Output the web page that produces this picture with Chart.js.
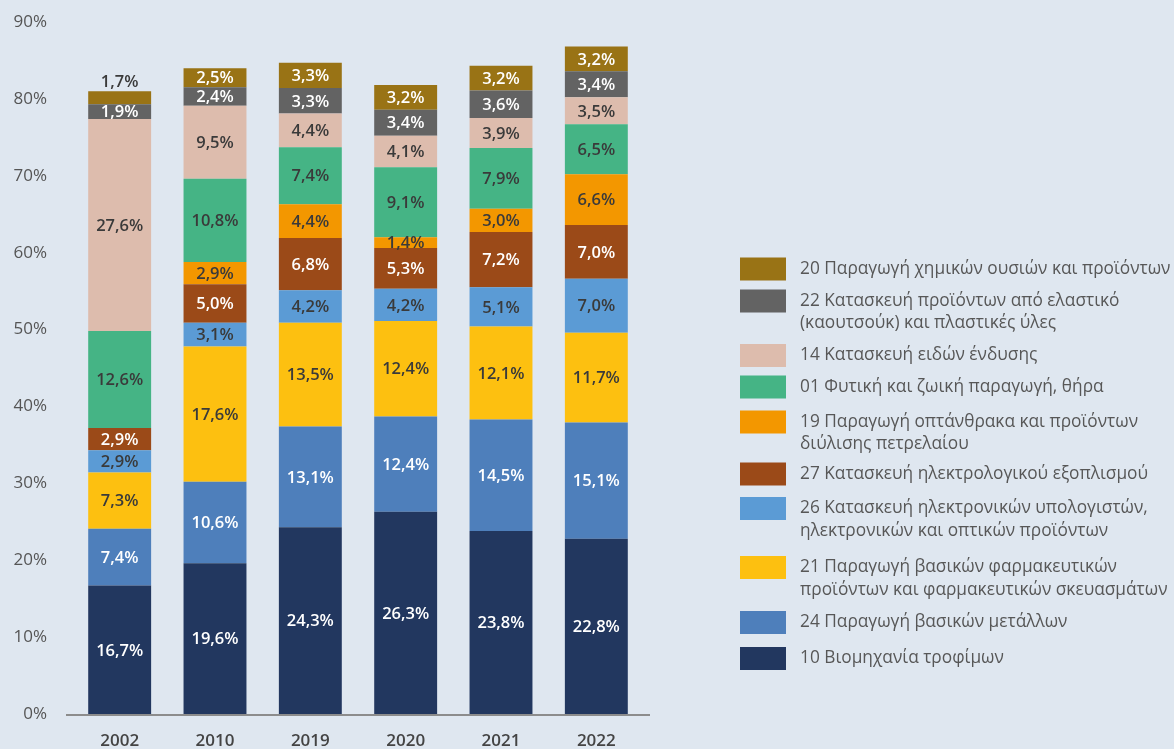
<!DOCTYPE html>
<html>
<head>
<meta charset="utf-8">
<script src="https://cdn.jsdelivr.net/npm/chart.js@4.4.1/dist/chart.umd.min.js"></script>
<style>
  html, body { margin: 0; padding: 0; background: #dfe7f0; }
  #wrap { width: 1174px; height: 749px; position: relative; }
</style>
</head>
<body>
<div id="wrap"><canvas id="chart"></canvas></div>
<script>
// --- data (bottom of stack first) ---
const years = ['2002', '2010', '2019', '2020', '2021', '2022'];
const yTicks = [0, 10, 20, 30, 40, 50, 60, 70, 80, 90];

const food       = [16.7, 19.6, 24.3, 26.3, 23.8, 22.8];
const metals     = [7.4, 10.6, 13.1, 12.4, 14.5, 15.1];
const pharma     = [7.3, 17.6, 13.5, 12.4, 12.1, 11.7];
const computers  = [2.9, 3.1, 4.2, 4.2, 5.1, 7.0];
const electrical = [2.9, 5.0, 6.8, 5.3, 7.2, 7.0];
const coke       = [null, 2.9, 4.4, 1.4, 3.0, 6.6];
const crops      = [12.6, 10.8, 7.4, 9.1, 7.9, 6.5];
const clothing   = [27.6, 9.5, 4.4, 4.1, 3.9, 3.5];
const rubber     = [1.9, 2.4, 3.3, 3.4, 3.6, 3.4];
const chemicals  = [1.7, 2.5, 3.3, 3.2, 3.2, 3.2];

const seriesNames = [
  ['10 Βιομηχανία τροφίμων'],
  ['24 Παραγωγή βασικών μετάλλων'],
  ['21 Παραγωγή βασικών φαρμακευτικών', 'προϊόντων και φαρμακευτικών σκευασμάτων'],
  ['26 Κατασκευή ηλεκτρονικών υπολογιστών,', 'ηλεκτρονικών και οπτικών προϊόντων'],
  ['27 Κατασκευή ηλεκτρολογικού εξοπλισμού'],
  ['19 Παραγωγή οπτάνθρακα και προϊόντων', 'διύλισης πετρελαίου'],
  ['01 Φυτική και ζωική παραγωγή, θήρα'],
  ['14 Κατασκευή ειδών ένδυσης'],
  ['22 Κατασκευή προϊόντων από ελαστικό', '(καουτσούκ) και πλαστικές ύλες'],
  ['20 Παραγωγή χημικών ουσιών και προϊόντων']
];
const seriesValues = [food, metals, pharma, computers, electrical, coke, crops, clothing, rubber, chemicals];

// --- styling ---
const FONT = '"Open Sans", "Noto Sans", sans-serif';
const colors = ['#22375f', '#4e7fbb', '#fdc010', '#5b9bd5', '#9b4a18', '#f39700', '#45b485', '#ddbcad', '#636363', '#997315'];
const labelColors = ['#fff', '#fff', '#3a3a3a', '#3a3a3a', '#fff', '#3a3a3a', '#3a3a3a', '#3a3a3a', '#fff', '#fff'];
// swatch centre y for legend rows, top row (20) first
const legendRowY = [269, 301, 355.5, 387, 422, 474, 508.5, 567.5, 622.5, 658.5];

const fmt = v => v.toFixed(1).replace('.', ',') + '%';

const datasets = seriesValues.map((vals, i) => ({
  label: seriesNames[i].join(' '),
  data: vals,
  backgroundColor: colors[i],
  borderWidth: 0,
  barPercentage: 0.66,
  categoryPercentage: 1
}));

// values printed on the bar segments
const segmentLabels = {
  id: 'segmentLabels',
  afterDatasetsDraw(chart) {
    const ctx = chart.ctx;
    ctx.save();
    ctx.font = '600 16.5px ' + FONT;
    ctx.textAlign = 'center';
    ctx.textBaseline = 'middle';
    const last = chart.data.datasets.length - 1;
    chart.data.datasets.forEach((ds, di) => {
      const meta = chart.getDatasetMeta(di);
      meta.data.forEach((bar, i) => {
        const v = ds.data[i];
        if (v == null) return;
        const h = Math.abs(bar.base - bar.y);
        if (di === last && h < 15) {
          ctx.fillStyle = '#3a3a3a';
          ctx.fillText(fmt(v), bar.x, bar.y - 9);
        } else {
          ctx.fillStyle = labelColors[di];
          ctx.fillText(fmt(v), bar.x, (bar.y + bar.base) / 2 + 1);
        }
      });
    });
    ctx.restore();
  }
};

// baseline and legend on the right
const sideLegend = {
  id: 'sideLegend',
  afterDraw(chart) {
    const { ctx, chartArea } = chart;
    ctx.save();
    ctx.strokeStyle = '#8c8c8c';
    ctx.lineWidth = 2;
    ctx.beginPath();
    ctx.moveTo(chartArea.left - 6, chartArea.bottom + 1);
    ctx.lineTo(chartArea.right + 6, chartArea.bottom + 1);
    ctx.stroke();

    ctx.font = '500 17.3px ' + FONT;
    ctx.textBaseline = 'middle';
    ctx.textAlign = 'left';
    const n = seriesNames.length;
    for (let r = 0; r < n; r++) {
      const di = n - 1 - r;
      const cy = legendRowY[r];
      ctx.fillStyle = colors[di];
      ctx.fillRect(740, cy - 11.5, 46, 23);
      ctx.fillStyle = '#575757';
      seriesNames[di].forEach((line, li) => {
        ctx.fillText(line, 800, cy + li * 22.5);
      });
    }
    ctx.restore();
  }
};

new Chart(document.getElementById('chart'), {
  type: 'bar',
  data: { labels: years, datasets },
  options: {
    responsive: true,
    maintainAspectRatio: false,
    animation: false,
    layout: { padding: { top: 22, right: 530, left: 0, bottom: 0 } },
    scales: {
      x: {
        stacked: true,
        grid: { display: false, drawTicks: false },
        border: { display: false },
        ticks: { color: '#444', font: { family: FONT, size: 17, weight: '600' }, padding: 17 },
        afterFit: s => { s.height = 35; }
      },
      y: {
        stacked: true,
        min: 0, max: 90,
        afterBuildTicks: s => { s.ticks = yTicks.map(v => ({ value: v })); },
        grid: { display: false, drawTicks: false },
        border: { display: false },
        ticks: { color: '#555', font: { family: FONT, size: 17, weight: '500' }, padding: 25, callback: v => v + '%' },
        afterFit: s => { s.width = 72; s.paddingTop = 10; s.paddingBottom = 10; }
      }
    },
    plugins: {
      legend: { display: false },
      tooltip: { enabled: false }
    }
  },
  plugins: [segmentLabels, sideLegend]
});
</script>
</body>
</html>
